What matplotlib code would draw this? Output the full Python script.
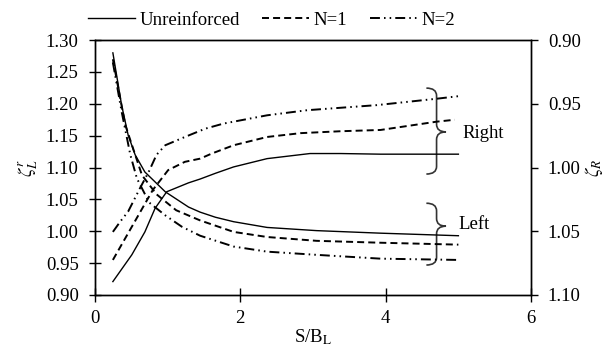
import matplotlib
matplotlib.use("Agg")
import matplotlib.pyplot as plt
from matplotlib.path import Path
from matplotlib.patches import PathPatch

plt.rcParams['font.family'] = ['Liberation Serif', 'DejaVu Serif']
plt.rcParams['mathtext.fontset'] = 'stix'
plt.rcParams['font.size'] = 13.5

# Left-axis curves (zeta_L)
x_unr_L = [0.25, 0.37, 0.46, 0.556, 0.69, 0.97, 1.29, 1.45, 1.66, 1.91, 2.37, 3.05, 3.93, 5.00]
y_unr_L = [1.280, 1.198, 1.151, 1.120, 1.093, 1.062, 1.038, 1.030, 1.022, 1.015, 1.006, 1.001, 0.997, 0.993]
x_n1_L = [0.25, 0.42, 0.65, 0.85, 1.12, 1.45, 1.91, 2.37, 3.05, 3.93, 5.00]
y_n1_L = [1.270, 1.167, 1.088, 1.058, 1.033, 1.017, 0.999, 0.991, 0.985, 0.982, 0.979]
x_n2_L = [0.25, 0.37, 0.49, 0.58, 0.75, 0.97, 1.20, 1.45, 1.91, 2.37, 3.05, 3.93, 5.00]
y_n2_L = [1.265, 1.188, 1.120, 1.083, 1.045, 1.025, 1.007, 0.993, 0.976, 0.968, 0.963, 0.957, 0.955]

# Right-axis curves (zeta_R, inverted axis)
x_unr_R = [0.25, 0.51, 0.69, 0.83, 0.99, 1.29, 1.45, 1.66, 1.91, 2.37, 2.96, 3.38, 3.93, 5.00]
y_unr_R = [1.0895, 1.0685, 1.0505, 1.032, 1.019, 1.012, 1.009, 1.0045, 0.9995, 0.993, 0.989, 0.989, 0.9895, 0.9895]
x_n1_R = [0.25, 0.42, 0.60, 0.80, 1.01, 1.24, 1.45, 1.61, 1.91, 2.37, 2.83, 3.38, 3.93, 4.70, 4.95]
y_n1_R = [1.0725, 1.0555, 1.0375, 1.0175, 1.002, 0.9955, 0.993, 0.989, 0.9825, 0.976, 0.973, 0.9715, 0.9705, 0.964, 0.9625]
x_n2_R = [0.25, 0.35, 0.46, 0.62, 0.75, 0.85, 0.97, 1.24, 1.52, 1.77, 2.37, 2.92, 3.52, 3.88, 4.70, 5.00]
y_n2_R = [1.0505, 1.0425, 1.0345, 1.0165, 1.0025, 0.990, 0.9825, 0.976, 0.9695, 0.9655, 0.959, 0.955, 0.9525, 0.951, 0.946, 0.944]

labels = ['Unreinforced', 'N=1', 'N=2']
left_ticks = [0.90, 0.95, 1.00, 1.05, 1.10, 1.15, 1.20, 1.25, 1.30]
right_ticks = [0.90, 0.95, 1.00, 1.05, 1.10]
x_ticks = [0, 2, 4, 6]

fig = plt.figure(figsize=(6.07, 3.52), dpi=100)
ax = fig.add_axes([0.156, 0.162, 0.719, 0.724])
ax2 = ax.twinx()

solid = dict(color='black', lw=1.0, ls='-')
dashed = dict(color='black', lw=1.4, ls=(0, (3.6, 2.1)))
dashdot = dict(color='black', lw=1.4, ls=(0, (5.1, 2.1, 0.8, 2.1, 0.8, 2.1)))

l1, = ax.plot(x_unr_L, y_unr_L, **solid)
l2, = ax.plot(x_n1_L, y_n1_L, **dashed)
l3, = ax.plot(x_n2_L, y_n2_L, **dashdot)
ax2.plot(x_unr_R, y_unr_R, **solid)
ax2.plot(x_n1_R, y_n1_R, **dashed)
ax2.plot(x_n2_R, y_n2_R, **dashdot)

ax.set_xlim(0, 6)
ax.set_ylim(0.90, 1.30)
ax2.set_ylim(1.10, 0.90)
ax.set_xticks(x_ticks)
ax.set_xticklabels([str(t) for t in x_ticks])
ax.set_yticks(left_ticks)
ax.set_yticklabels([f'{t:.2f}' for t in left_ticks])
ax2.set_yticks(right_ticks)
ax2.set_yticklabels([f'{t:.2f}' for t in right_ticks])

ax.tick_params(axis='y', direction='inout', length=9, width=1, pad=7)
ax.tick_params(axis='x', direction='inout', length=10, width=1, pad=6)
ax2.tick_params(axis='y', direction='out', length=5, width=1, pad=7)
for a in (ax, ax2):
    for s in a.spines.values():
        s.set_linewidth(1.0)

ax.set_xlabel('S/B$_{\\rm L}$', labelpad=0)
ax.set_ylabel('$\\zeta^{r}_{L}$', labelpad=4)
ax2.set_ylabel('$\\zeta_{R}$', labelpad=2, rotation=90)


def brace(a, x, y0, y1, ym, w, w2, r):
    verts = [(x - w, y1), (x, y1), (x, y1 - r), (x, ym + r),
             (x, ym), (x + w2, ym), (x, ym), (x, ym - r),
             (x, y0 + r), (x, y0), (x - w, y0)]
    codes = [Path.MOVETO, Path.CURVE3, Path.CURVE3, Path.LINETO,
             Path.CURVE3, Path.CURVE3, Path.CURVE3, Path.CURVE3,
             Path.LINETO, Path.CURVE3, Path.CURVE3]
    a.add_patch(PathPatch(Path(verts, codes), fill=False, lw=1.2,
                          edgecolor='#333333'))


brace(ax, 4.70, 1.0898, 1.2247, 1.156, 0.14, 0.13, 0.012)
brace(ax, 4.70, 0.947, 1.044, 1.008, 0.14, 0.13, 0.012)
ax.text(5.05, 1.154, 'Right', ha='left', va='center')
ax.text(5.00, 1.010, 'Left', ha='left', va='center')

fig.legend([l1, l2, l3], labels, loc='center', bbox_to_anchor=(0.447, 0.943),
           ncol=3, frameon=False, handlelength=2.5, handletextpad=0.25,
           columnspacing=1.2, borderpad=0, borderaxespad=0)

fig.savefig('out.png', dpi=100)
